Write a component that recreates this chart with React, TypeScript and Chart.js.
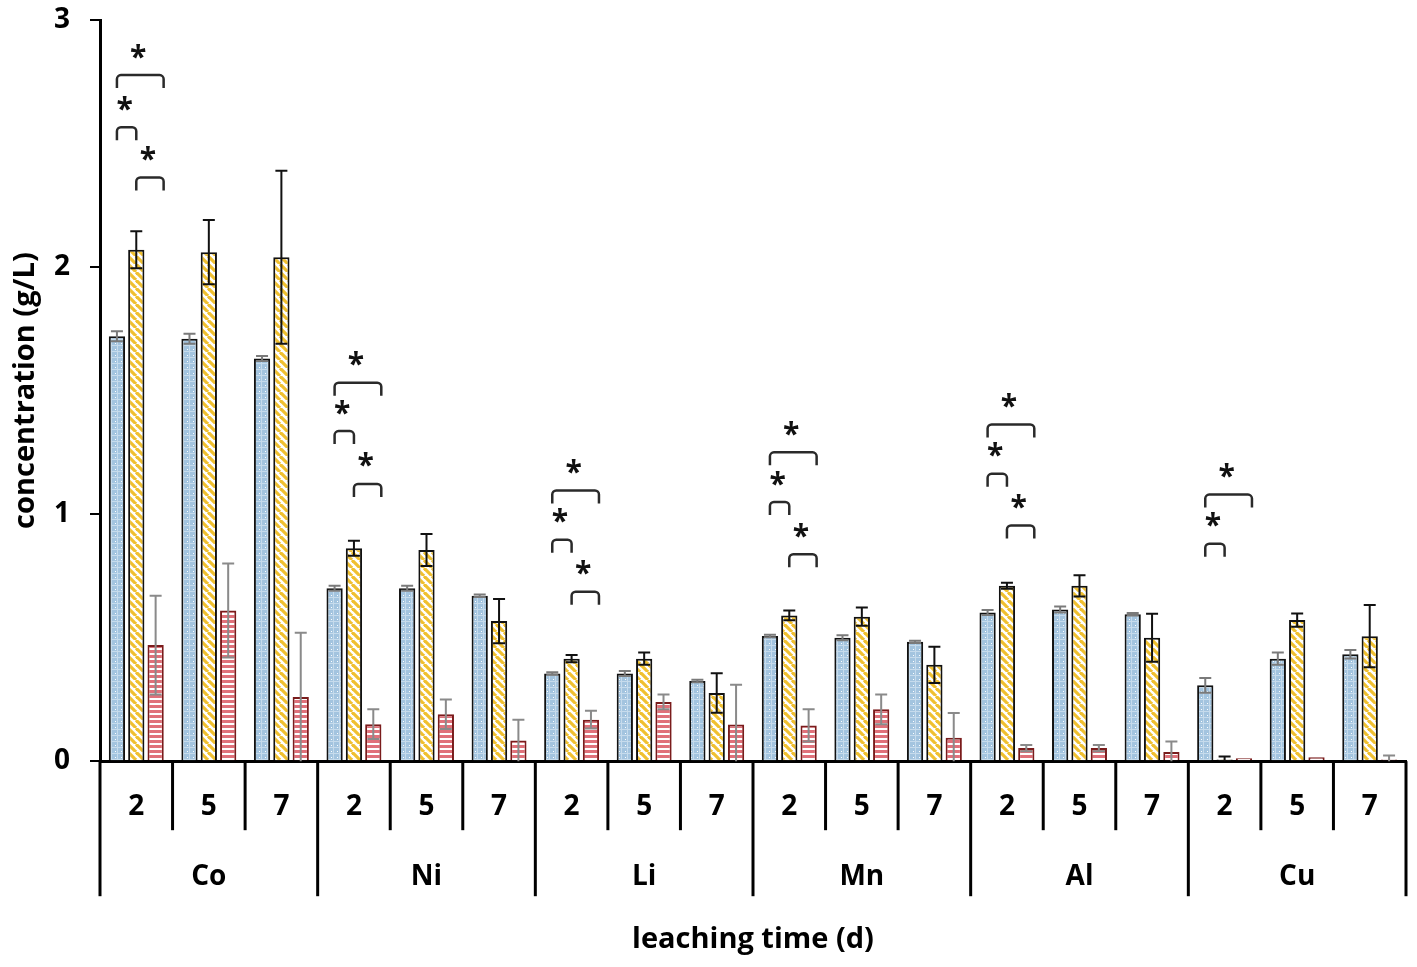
import { useEffect, useRef } from 'react';
import { Chart, registerables } from 'chart.js';

Chart.register(...registerables);

const elements = ['Co', 'Ni', 'Li', 'Mn', 'Al', 'Cu'];
const days = ['2', '5', '7'];
const categories = elements.flatMap((el) => days.map((d) => `${el} ${d}`));

// concentration (g/L) per element, day 2 / 5 / 7
const blueValues = [1.72, 1.71, 1.63, 0.7, 0.7, 0.67, 0.355, 0.355, 0.325, 0.507, 0.5, 0.483, 0.602, 0.614, 0.595, 0.307, 0.415, 0.433];
const blueErrors = [0.02, 0.02, 0.01, 0.01, 0.01, 0.005, 0.005, 0.01, 0.005, 0.005, 0.01, 0.005, 0.01, 0.012, 0.005, 0.03, 0.025, 0.017];
const yellowValues = [2.07, 2.06, 2.04, 0.862, 0.855, 0.567, 0.415, 0.415, 0.276, 0.59, 0.585, 0.39, 0.71, 0.71, 0.5, 0.007, 0.571, 0.506];
const yellowErrors = [0.075, 0.13, 0.35, 0.03, 0.065, 0.09, 0.015, 0.025, 0.08, 0.02, 0.037, 0.073, 0.012, 0.043, 0.097, 0.012, 0.027, 0.126];
const redValues = [0.47, 0.61, 0.26, 0.15, 0.19, 0.084, 0.168, 0.24, 0.149, 0.145, 0.21, 0.095, 0.053, 0.053, 0.037, 0.012, 0.016, 0.007];
const redErrors = [0.2, 0.19, 0.26, 0.06, 0.06, 0.084, 0.036, 0.03, 0.16, 0.065, 0.06, 0.1, 0.013, 0.013, 0.043, 0, 0, 0.016];

// significance brackets over day 2 of each element (height in g/L)
const bracketAll = [2.777, 1.532, 1.096, 1.25, 1.363, 1.079];
const bracketBlueYellow = [2.566, 1.336, 0.896, 1.049, 1.163, 0.88];
const bracketYellowRed: (number | null)[] = [2.363, 1.122, 0.686, 0.838, 0.954, null];

const errorSets = [blueErrors, yellowErrors, redErrors];
const errorColors = ['#7a7a7a', '#111111', '#8a8a8a'];
const FONT = '"Open Sans", "DejaVu Sans", sans-serif';

function makePattern(kind: string): CanvasPattern | string {
	const c = document.createElement('canvas');
	const g = c.getContext('2d');
	if (!g) return '#ccc';
	if (kind === 'dots') {
		c.width = 6;
		c.height = 6;
		g.fillStyle = '#a3c4df';
		g.fillRect(0, 0, 6, 6);
		g.fillStyle = '#c6dbec';
		g.fillRect(0, 3, 6, 1);
		g.fillRect(3, 0, 1, 6);
		g.fillStyle = '#ffffff';
		g.fillRect(1, 1, 1, 1);
	} else if (kind === 'diag') {
		c.width = 8;
		c.height = 8;
		g.fillStyle = '#ffffff';
		g.fillRect(0, 0, 8, 8);
		g.strokeStyle = '#f0c030';
		g.lineWidth = 3.2;
		for (let k = -2; k <= 2; k++) {
			g.beginPath();
			g.moveTo(k * 8, 0);
			g.lineTo(k * 8 + 8, 8);
			g.stroke();
		}
	} else {
		c.width = 5;
		c.height = 5;
		g.fillStyle = '#ffffff';
		g.fillRect(0, 0, 5, 5);
		g.fillStyle = '#e0717a';
		g.fillRect(0, 0, 5, 3);
	}
	return g.createPattern(c, 'repeat') || '#ccc';
}

const errorBarPlugin = {
	id: 'errorBars',
	afterDatasetsDraw(chart: any) {
		const {ctx, chartArea} = chart;
		const y = chart.scales.y;
		chart.data.datasets.forEach((ds: any, di: number) => {
			const meta = chart.getDatasetMeta(di);
			const errs = errorSets[di];
			ctx.save();
			ctx.strokeStyle = errorColors[di];
			ctx.lineWidth = 2;
			meta.data.forEach((bar: any, i: number) => {
				const v = ds.data[i];
				const e = errs[i];
				if (!e) return;
				const top = y.getPixelForValue(v + e);
				const low = v - e;
				const bot = low > 0 ? y.getPixelForValue(low) : chartArea.bottom;
				ctx.beginPath();
				ctx.moveTo(bar.x, top);
				ctx.lineTo(bar.x, bot);
				ctx.moveTo(bar.x - 6, top);
				ctx.lineTo(bar.x + 6, top);
				if (low > 0) {
					ctx.moveTo(bar.x - 6, bot);
					ctx.lineTo(bar.x + 6, bot);
				}
				ctx.stroke();
			});
			ctx.restore();
		});
	}
};

function drawBracket(ctx: CanvasRenderingContext2D, x1: number, x2: number, yy: number) {
	const r = 4;
	const leg = 13;
	ctx.beginPath();
	ctx.moveTo(x1, yy + leg);
	ctx.lineTo(x1, yy + r);
	ctx.arcTo(x1, yy, x1 + r, yy, r);
	ctx.lineTo(x2 - r, yy);
	ctx.arcTo(x2, yy, x2, yy + r, r);
	ctx.lineTo(x2, yy + leg);
	ctx.stroke();
	const m = ctx.measureText('*');
	const base = yy - 24 + (m.actualBoundingBoxAscent - m.actualBoundingBoxDescent) / 2;
	ctx.fillText('*', (x1 + x2) / 2 - 2, base);
}

const bracketPlugin = {
	id: 'brackets',
	afterDatasetsDraw(chart: any) {
		const {ctx} = chart;
		const y = chart.scales.y;
		const m0 = chart.getDatasetMeta(0);
		const m1 = chart.getDatasetMeta(1);
		const m2 = chart.getDatasetMeta(2);
		ctx.save();
		ctx.strokeStyle = '#2a2a2a';
		ctx.fillStyle = '#111';
		ctx.lineWidth = 2.5;
		ctx.font = `bold 30px ${FONT}`;
		ctx.textAlign = 'center';
		ctx.textBaseline = 'alphabetic';
		elements.forEach((_, g) => {
			const idx = g * 3;
			const bx = m0.data[idx].x;
			const yx = m1.data[idx].x;
			const rx = m2.data[idx].x + 8;
			drawBracket(ctx, bx, rx, y.getPixelForValue(bracketAll[g]));
			drawBracket(ctx, bx, yx, y.getPixelForValue(bracketBlueYellow[g]));
			const yr = bracketYellowRed[g];
			if (yr !== null) drawBracket(ctx, yx, rx, y.getPixelForValue(yr));
		});
		ctx.restore();
	}
};

const groupAxisPlugin = {
	id: 'groupAxis',
	afterDraw(chart: any) {
		const {ctx, chartArea} = chart;
		const n = categories.length;
		const w = (chartArea.right - chartArea.left) / n;
		const b = chartArea.bottom;
		ctx.save();
		ctx.strokeStyle = '#000';
		ctx.lineWidth = 3;
		for (let i = 0; i <= n; i++) {
			const x = chartArea.left + i * w;
			ctx.beginPath();
			ctx.moveTo(x, b);
			ctx.lineTo(x, b + (i % 3 === 0 ? 135 : 69));
			ctx.stroke();
		}
		ctx.fillStyle = '#000';
		ctx.textAlign = 'center';
		ctx.textBaseline = 'middle';
		ctx.font = `bold 28px ${FONT}`;
		categories.forEach((_, i) => {
			ctx.fillText(days[i % 3], chartArea.left + (i + 0.5) * w, b + 46);
		});
		elements.forEach((el, g) => {
			ctx.fillText(el, chartArea.left + (g * 3 + 1.5) * w, b + 116);
		});
		ctx.restore();
	}
};

export default function App() {
	const chartRef: any = useRef(null);

	useEffect(() => {
		document.body.style.margin = '0';
		if (!chartRef.current) return;
		const chart = new Chart(chartRef.current.getContext('2d'), {
			type: 'bar',
			data: {
				labels: categories,
				datasets: [
					{data: blueValues, backgroundColor: makePattern('dots'), borderColor: '#111', borderWidth: 2},
					{data: yellowValues, backgroundColor: makePattern('diag'), borderColor: '#111', borderWidth: 2},
					{data: redValues, backgroundColor: makePattern('lines'), borderColor: '#7a1c1c', borderWidth: 2}
				]
			},
			options: {
				animation: false,
				responsive: true,
				maintainAspectRatio: false,
				datasets: {bar: {categoryPercentage: 0.8, barPercentage: 0.84}},
				layout: {padding: {left: 0, right: 11, top: 20, bottom: 0}},
				plugins: {legend: {display: false}, tooltip: {enabled: false}},
				scales: {
					x: {
						grid: {display: false},
						ticks: {display: false},
						border: {display: true, color: '#000', width: 3},
						title: {
							display: true,
							text: 'leaching time (d)',
							color: '#000',
							font: {family: FONT, size: 29, weight: 'bold'},
							padding: {top: 153, bottom: 10}
						}
					},
					y: {
						min: 0,
						max: 3,
						afterFit: (scale: any) => {
							scale.width = 100;
							scale.paddingTop = 0;
							scale.paddingBottom = 0;
						},
						ticks: {
							stepSize: 1,
							color: '#000',
							padding: 20,
							font: {family: FONT, size: 28, weight: 'bold'}
						},
						grid: {drawOnChartArea: false, drawTicks: true, tickLength: 10, color: '#000', lineWidth: 2},
						border: {display: true, color: '#000', width: 3},
						title: {
							display: true,
							text: 'concentration (g/L)',
							color: '#000',
							font: {family: FONT, size: 29, weight: 'bold'},
							padding: {top: 8, bottom: 4}
						}
					}
				}
			},
			plugins: [errorBarPlugin, bracketPlugin, groupAxisPlugin]
		});
		return () => {
			chart.destroy();
		};
	}, []);

	return (
		<div style={{width: 1417, height: 967, position: 'relative', background: '#fff'}}>
			<canvas ref={chartRef} />
		</div>
	);
}
